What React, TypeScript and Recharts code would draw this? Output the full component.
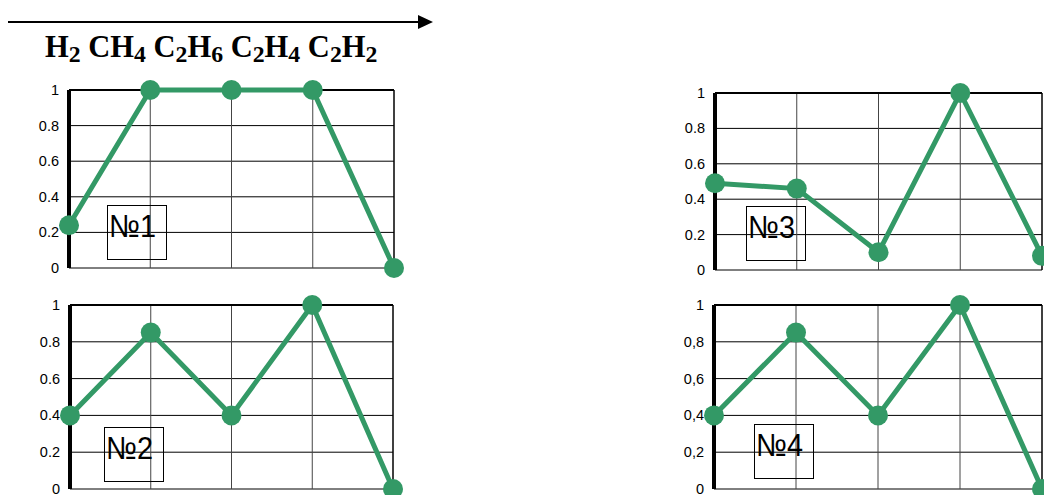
import React from "react";
import {
  LineChart,
  Line,
  XAxis,
  YAxis,
  CartesianGrid,
  ReferenceLine,
} from "recharts";

const gases = ["H2", "CH4", "C2H6", "C2H4", "C2H2"];
const sample1 = [0.24, 1, 1, 1, 0];
const sample2 = [0.4, 0.85, 0.4, 1, 0];
const sample3 = [0.49, 0.46, 0.1, 1, 0.08];
const sample4 = [0.4, 0.85, 0.4, 1, 0];
const yTicks = [0, 0.2, 0.4, 0.6, 0.8, 1];
const panelLabels = ["№1", "№2", "№3", "№4"];

const GREEN = "#339966";

interface PanelProps {
  values: number[];
  label: string;
  left: number;
  top: number;
  width: number;
  height: number;
  margin: { top: number; right: number; bottom: number };
  axisWidth: number;
  comma?: boolean;
  box: { left: number; top: number };
}

function Panel({ values, label, left, top, width, height, margin, axisWidth, comma, box }: PanelProps) {
  const data = gases.map((g, i) => ({ gas: g, value: values[i] }));
  const renderTick = (props: any) => {
    const v = String(props.payload.value);
    return (
      <text
        x={props.x - 10}
        y={props.y}
        dy={5}
        textAnchor="end"
        fill="#000"
        fontSize={14.5}
        fontFamily="Liberation Sans, Arial, sans-serif"
      >
        {comma ? v.replace(".", ",") : v}
      </text>
    );
  };
  return (
    <div style={{ position: "absolute", left, top, width, height }}>
      <LineChart
        width={width}
        height={height}
        data={data}
        margin={{ top: margin.top, right: margin.right, bottom: margin.bottom, left: 0 }}
      >
        <CartesianGrid vertical={false} stroke="#000" strokeOpacity={1} />
        {gases.slice(1, 4).map((g) => (
          <ReferenceLine key={g} x={g} stroke="#444" strokeWidth={1} />
        ))}
        <ReferenceLine y={1} stroke="#000" strokeWidth={2} />
        <ReferenceLine x="C2H2" stroke="#000" strokeWidth={1.5} />
        <XAxis
          dataKey="gas"
          tick={false}
          tickLine={false}
          height={0}
          axisLine={{ stroke: "#000", strokeWidth: 4 }}
        />
        <YAxis
          domain={[0, 1]}
          ticks={yTicks}
          interval={0}
          width={axisWidth}
          tickSize={0}
          tickMargin={0}
          tickLine={false}
          axisLine={{ stroke: "#000", strokeWidth: 4 }}
          tick={renderTick}
        />
        <Line
          type="linear"
          dataKey="value"
          stroke={GREEN}
          strokeWidth={5}
          dot={{ r: 10, fill: GREEN, stroke: "none" }}
          isAnimationActive={false}
        />
      </LineChart>
      <div
        style={{
          position: "absolute",
          left: box.left - left,
          top: box.top - top,
          width: 60,
          height: 55,
          border: "1px solid #000",
          boxSizing: "border-box",
          fontFamily: "Liberation Sans, Arial, sans-serif",
          fontSize: 32,
          lineHeight: "32px",
          paddingTop: 4,
          paddingLeft: 1,
          whiteSpace: "nowrap",
        }}
      >
        <span style={{ display: "inline-block", transform: "scaleX(0.9)", transformOrigin: "left" }}>
          {label}
        </span>
      </div>
    </div>
  );
}

const sub = (n: string) => (
  <span style={{ fontSize: "0.78em", position: "relative", top: "0.2em" }}>{n}</span>
);

export default function App() {
  return (
    <div
      style={{
        position: "absolute",
        left: 0,
        top: 0,
        width: 1044,
        height: 495,
        overflow: "hidden",
        background: "#fff",
      }}
    >
      <svg style={{ position: "absolute", left: 0, top: 0 }} width={440} height={40}>
        <line x1={8} y1={22} x2={420} y2={22} stroke="#000" strokeWidth={2} />
        <polygon points="418,15 433,22 418,29" fill="#000" />
      </svg>
      <div
        style={{
          position: "absolute",
          left: 45,
          top: 30,
          fontFamily: "Liberation Serif, Times New Roman, serif",
          fontWeight: "bold",
          fontSize: 30.5,
          lineHeight: "34px",
          whiteSpace: "nowrap",
        }}
      >
        H{sub("2")} CH{sub("4")} C{sub("2")}H{sub("6")} C{sub("2")}H{sub("4")} C{sub("2")}H{sub("2")}
      </div>
      <Panel
        values={sample1}
        label={panelLabels[0]}
        left={0}
        top={80}
        width={420}
        height={200}
        margin={{ top: 10, right: 26, bottom: 12 }}
        axisWidth={69}
        box={{ left: 107, top: 205 }}
      />
      <Panel
        values={sample2}
        label={panelLabels[1]}
        left={0}
        top={290}
        width={420}
        height={220}
        margin={{ top: 15, right: 27, bottom: 21 }}
        axisWidth={70}
        box={{ left: 104, top: 427 }}
      />
      <Panel
        values={sample3}
        label={panelLabels[2]}
        left={640}
        top={80}
        width={404}
        height={200}
        margin={{ top: 13, right: 2, bottom: 10 }}
        axisWidth={75}
        box={{ left: 746, top: 206 }}
      />
      <Panel
        values={sample4}
        label={panelLabels[3]}
        left={640}
        top={290}
        width={404}
        height={220}
        margin={{ top: 15, right: 2, bottom: 21 }}
        axisWidth={74}
        comma
        box={{ left: 754, top: 424 }}
      />
    </div>
  );
}
